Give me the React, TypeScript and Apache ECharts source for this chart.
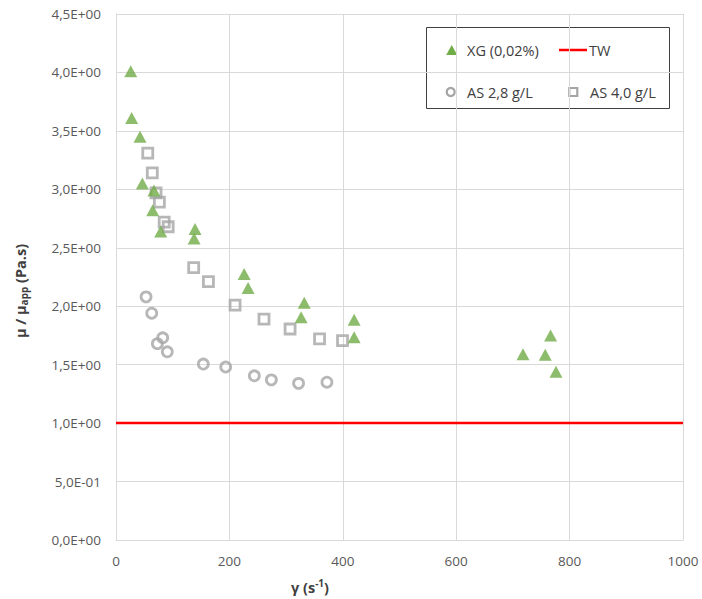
import React, { useEffect, useRef } from "react";
import * as echarts from "echarts";

// XG (0,02%) : [shear rate, ratio]
const xgData: [number, number][] = [
  [26, 4.01], [27.6, 3.61], [42.4, 3.45], [46.5, 3.05], [67, 2.99], [64.7, 2.82],
  [78.8, 2.64], [137.7, 2.58], [139.4, 2.66], [226, 2.275], [233, 2.155],
  [326.5, 1.905], [332, 2.03], [420, 1.885], [420, 1.735], [717.8, 1.59],
  [757, 1.585], [766.5, 1.75], [776, 1.44],
];
// AS 2,8 g/L
const as28Data: [number, number][] = [
  [53, 2.08], [63, 1.94], [82.4, 1.73], [73, 1.68], [90.5, 1.61], [154, 1.505],
  [193.5, 1.48], [244, 1.405], [274, 1.37], [322, 1.34], [372, 1.35],
];
// AS 4,0 g/L
const as40Data: [number, number][] = [
  [56, 3.31], [64, 3.14], [70.6, 2.97], [76.5, 2.89], [85, 2.72], [92, 2.68],
  [137, 2.33], [163, 2.21], [210, 2.01], [261, 1.89], [307, 1.805], [359, 1.72],
  [399.5, 1.705],
];
// TW reference line
const twData: [number, number][] = [[0, 1], [1000, 1]];

const seriesNames = ["XG (0,02%)", "TW", "AS 2,8 g/L", "AS 4,0 g/L"];
const xTicks = { min: 0, max: 1000, interval: 200 };
const yTicks = { min: 0, max: 4.5, interval: 0.5 };

const GREEN = "#70AD47";
const GRAY = "#A5A5A5";
const RED = "#FF0000";
const FONT = "'Open Sans', 'Noto Sans', sans-serif";
const LABEL = "#595959";

function sciFmt(v: number): string {
  if (v === 0) return "0,0E+00";
  const e = Math.floor(Math.log10(v) + 1e-9);
  const m = v / Math.pow(10, e);
  return (
    m.toFixed(1).replace(".", ",") +
    "E" +
    (e < 0 ? "-" : "+") +
    String(Math.abs(e)).padStart(2, "0")
  );
}

export default function App() {
  const ref = useRef<HTMLDivElement>(null);
  useEffect(() => {
    if (!ref.current) return;
    const chart = echarts.init(ref.current, null, { renderer: "svg" });
    const legendText = (x: number, y: number, t: string) => ({
      type: "text",
      x,
      y,
      style: { text: t, fontSize: 14.5, fontFamily: FONT, fill: "#404040", verticalAlign: "middle", align: "left" },
    });
    chart.setOption({
      animation: false,
      backgroundColor: "#fff",
      grid: { left: 116, right: 19, top: 14, bottom: 59, containLabel: false },
      xAxis: {
        type: "value",
        ...xTicks,
        axisLine: { show: true, lineStyle: { color: "#D9D9D9" } },
        axisTick: { show: false },
        splitLine: { show: true, lineStyle: { color: "#D9D9D9" } },
        axisLabel: {
          color: LABEL,
          fontSize: 13.5,
          fontFamily: FONT,
          margin: 14,
          formatter: (v: number) => String(v),
        },
      },
      yAxis: {
        type: "value",
        ...yTicks,
        axisLine: { show: true, lineStyle: { color: "#D9D9D9" } },
        axisTick: { show: false },
        splitLine: { show: true, lineStyle: { color: "#D9D9D9" } },
        axisLabel: { color: LABEL, fontSize: 13.5, fontFamily: FONT, margin: 15, formatter: sciFmt },
      },
      series: [
        {
          name: seriesNames[1],
          type: "line",
          data: twData,
          showSymbol: false,
          lineStyle: { color: RED, width: 2.5 },
          z: 1,
        },
        {
          name: seriesNames[2],
          type: "scatter",
          data: as28Data,
          symbol: "circle",
          symbolSize: 10,
          itemStyle: { color: "rgba(255,255,255,0)", borderColor: GRAY, borderWidth: 2.8 },
          z: 2,
        },
        {
          name: seriesNames[3],
          type: "scatter",
          data: as40Data,
          symbol: "rect",
          symbolSize: 10,
          itemStyle: { color: "rgba(255,255,255,0)", borderColor: GRAY, borderWidth: 2.8 },
          z: 3,
        },
        {
          name: seriesNames[0],
          type: "scatter",
          data: xgData,
          symbol: "triangle",
          symbolSize: [13, 12],
          itemStyle: { color: GREEN },
          z: 4,
        },
      ],
      graphic: [
        {
          type: "text",
          x: 20,
          y: 291,
          rotation: Math.PI / 2,
          style: {
            text: "{a|μ / μ}{s|app}{a| (Pa.s)}",
            align: "center",
            verticalAlign: "middle",
            fill: "#404040",
            rich: {
              a: { fontSize: 14.5, fontWeight: "bold", fontFamily: FONT, fill: "#404040", lineHeight: 18 },
              s: { fontSize: 10, fontWeight: "bold", fontFamily: FONT, fill: "#404040", lineHeight: 10, verticalAlign: "bottom" },
            },
          },
        },
        {
          type: "text",
          x: 310,
          y: 587,
          style: {
            text: "{a|γ (s}{s|-1}{a|)}",
            align: "center",
            verticalAlign: "middle",
            fill: "#404040",
            rich: {
              a: { fontSize: 14.5, fontWeight: "bold", fontFamily: FONT, fill: "#404040", lineHeight: 18 },
              s: { fontSize: 10, fontWeight: "bold", fontFamily: FONT, fill: "#404040", lineHeight: 10, verticalAlign: "top" },
            },
          },
        },
        {
          type: "group",
          children: [
            {
              type: "rect",
              shape: { x: 426.5, y: 27.5, width: 243, height: 81 },
              style: { fill: "#fff", stroke: "#404040", lineWidth: 1 },
            },
            {
              type: "polygon",
              shape: { points: [[446.2, 55], [457.2, 55], [451.7, 45]] },
              style: { fill: GREEN },
            },
            legendText(467, 50, seriesNames[0]),
            {
              type: "line",
              shape: { x1: 559, y1: 50, x2: 587, y2: 50 },
              style: { stroke: RED, lineWidth: 2.5 },
            },
            legendText(589, 50, seriesNames[1]),
            {
              type: "circle",
              shape: { cx: 450.7, cy: 92, r: 4 },
              style: { fill: "none", stroke: GRAY, lineWidth: 2.2 },
            },
            legendText(467, 92, seriesNames[2]),
            {
              type: "rect",
              shape: { x: 569.3, y: 88, width: 8, height: 8 },
              style: { fill: "none", stroke: GRAY, lineWidth: 2.2 },
            },
            legendText(590, 92, seriesNames[3]),
          ],
        },
      ],
    });
    return () => chart.dispose();
  }, []);
  return (
    <div
      ref={ref}
      style={{ position: "absolute", left: 0, top: 0, width: 702, height: 599, background: "#fff" }}
    />
  );
}
